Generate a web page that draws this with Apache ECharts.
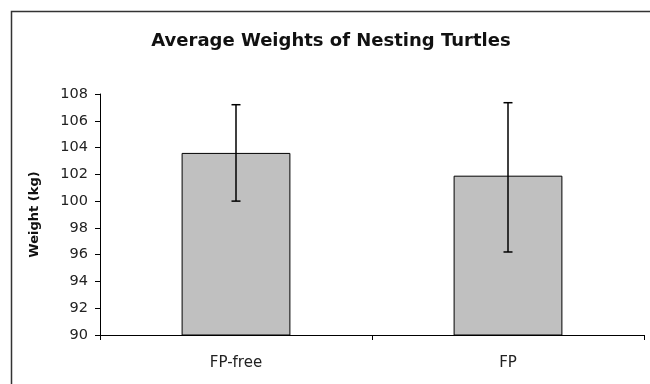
<!DOCTYPE html>
<html><head><meta charset="utf-8">
<script src="https://cdn.jsdelivr.net/npm/echarts@6/dist/echarts.min.js"></script>
<style>html,body{margin:0;padding:0;background:#fff}#c{width:650px;height:384px}</style>
</head><body><div id="c"></div>
<script>
const categories = ['FP-free', 'FP'];
const meanWeights = [103.6, 101.9];
const errLow = [100.0, 96.2];
const errHigh = [107.2, 107.35];
const yTicks = [90, 92, 94, 96, 98, 100, 102, 104, 106, 108];

const chart = echarts.init(document.getElementById('c'), null, {renderer: 'canvas'});
chart.setOption({
  animation: false,
  backgroundColor: '#fff',
  title: {
    text: 'Average Weights of Nesting Turtles',
    left: 326, top: 27, textAlign: 'center',
    textStyle: {fontFamily: 'DejaVu Sans', fontWeight: 'bold', fontSize: 18, color: '#111'}
  },
  graphic: [{
    type: 'rect', left: 9, top: 9, z: 100,
    shape: {width: 700, height: 500},
    style: {fill: 'none', stroke: '#333', lineWidth: 1.5}
  }],
  grid: {left: 100, right: 6, top: 94, bottom: 49},
  xAxis: {
    type: 'category', data: categories,
    axisLine: {lineStyle: {color: '#000', width: 1}},
    axisTick: {show: true, length: 5, lineStyle: {color: '#000'}},
    axisLabel: {fontFamily: 'DejaVu Sans', fontSize: 15, color: '#222', margin: 21}
  },
  yAxis: {
    type: 'value', min: yTicks[0], max: yTicks[yTicks.length - 1], interval: 2,
    name: 'Weight (kg)', nameLocation: 'middle', nameGap: 59, nameRotate: 90,
    nameTextStyle: {fontFamily: 'DejaVu Sans', fontWeight: 'bold', fontSize: 13, color: '#111'},
    axisLine: {show: true, lineStyle: {color: '#000', width: 1}},
    axisTick: {show: true, length: 5, lineStyle: {color: '#000'}},
    axisLabel: {fontFamily: 'DejaVu Sans', fontSize: 14.5, color: '#222', margin: 12},
    splitLine: {show: false}
  },
  series: [{
    type: 'bar', data: meanWeights, barWidth: '40%',
    itemStyle: {color: '#c0c0c0', borderColor: '#000', borderWidth: 1}
  }, {
    type: 'custom', z: 10,
    data: categories.map((c, i) => [i, errLow[i], errHigh[i]]),
    renderItem: function (params, api) {
      const x = api.value(0);
      const lo = api.coord([x, api.value(1)]);
      const hi = api.coord([x, api.value(2)]);
      const hw = 4.5;
      const st = {stroke: '#000', lineWidth: 1.5, fill: 'none'};
      return {type: 'group', children: [
        {type: 'line', shape: {x1: hi[0], y1: hi[1], x2: lo[0], y2: lo[1]}, style: st},
        {type: 'line', shape: {x1: hi[0] - hw, y1: hi[1], x2: hi[0] + hw, y2: hi[1]}, style: st},
        {type: 'line', shape: {x1: lo[0] - hw, y1: lo[1], x2: lo[0] + hw, y2: lo[1]}, style: st}
      ]};
    }
  }]
});
</script></body></html>
